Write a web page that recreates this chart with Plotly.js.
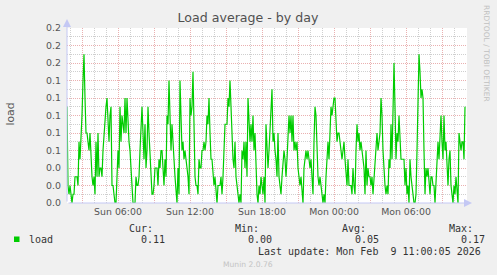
<!DOCTYPE html>
<html>
<head>
<meta charset="utf-8">
<script src="https://cdn.plot.ly/plotly-3.0.1.min.js"></script>
<style>
  html, body { margin: 0; padding: 0; background: #f0f0f0; }
  #chart { width: 497px; height: 275px; }
</style>
</head>
<body>
<div id="chart"></div>
<script>
// ---- Data (5-minute samples) ----
const startTime = "2026-02-08T01:45:00Z";
const stepMinutes = 5;

const loadSunEarly = [
  0.11, 0.02, 0.01, 0.02, 0.01, 0.00, 0.01, 0.01, 0.03, 0.03,
  0.03, 0.02, 0.07, 0.05, 0.07, 0.10, 0.14, 0.17, 0.12, 0.08,
  0.08, 0.07, 0.06, 0.08, 0.05, 0.03, 0.02, 0.03, 0.01, 0.07,
  0.03, 0.08, 0.03, 0.04, 0.04, 0.03, 0.06, 0.08, 0.09, 0.11,
  0.12, 0.08, 0.07, 0.10, 0.11, 0.02, 0.02, 0.01, 0.00, 0.00,
  0.03, 0.06, 0.04, 0.11, 0.07, 0.10, 0.09, 0.08, 0.12, 0.08,
  0.12, 0.08, 0.07, 0.06, 0.04, 0.01, 0.00, 0.00, 0.00, 0.03,
  0.02, 0.02, 0.03, 0.06, 0.08, 0.11, 0.08, 0.05, 0.09, 0.04,
  0.06, 0.11, 0.08, 0.06, 0.03, 0.01, 0.01, 0.02, 0.04, 0.04,
  0.04, 0.02, 0.05, 0.04, 0.06, 0.06, 0.04, 0.02, 0.05, 0.03
];
const loadSunMid = [
  0.10, 0.09, 0.14, 0.09, 0.06, 0.09, 0.06, 0.05, 0.03, 0.01,
  0.00, 0.04, 0.01, 0.14, 0.08, 0.06, 0.07, 0.05, 0.06, 0.05,
  0.04, 0.03, 0.01, 0.12, 0.10, 0.11, 0.15, 0.09, 0.03, 0.02,
  0.02, 0.01, 0.05, 0.04, 0.04, 0.06, 0.06, 0.07, 0.06, 0.07,
  0.10, 0.09, 0.12, 0.08, 0.05, 0.05, 0.03, 0.02, 0.03, 0.01,
  0.00, 0.02, 0.02, 0.02, 0.03, 0.01, 0.03, 0.06, 0.09, 0.09,
  0.09, 0.12, 0.11, 0.14, 0.10, 0.06, 0.05, 0.04, 0.07, 0.03,
  0.02, 0.01, 0.00, 0.01, 0.00, 0.06, 0.05, 0.07, 0.04, 0.07,
  0.03, 0.12, 0.10, 0.07, 0.09, 0.07, 0.10, 0.06, 0.08, 0.03,
  0.01, 0.00, 0.02, 0.01, 0.03, 0.02, 0.01, 0.03, 0.00, 0.09
];
const loadSunLate = [
  0.06, 0.04, 0.06, 0.09, 0.10, 0.13, 0.07, 0.08, 0.06, 0.05,
  0.03, 0.08, 0.03, 0.02, 0.01, 0.03, 0.05, 0.06, 0.05, 0.03,
  0.05, 0.08, 0.10, 0.08, 0.10, 0.07, 0.10, 0.06, 0.07, 0.06,
  0.07, 0.04, 0.03, 0.02, 0.03, 0.01, 0.00, 0.04, 0.05, 0.06,
  0.05, 0.06, 0.05, 0.04, 0.05, 0.03, 0.01, 0.07, 0.11, 0.10,
  0.06, 0.03, 0.02, 0.03, 0.02, 0.01, 0.00, 0.01, 0.00, 0.03,
  0.06, 0.07, 0.05, 0.08, 0.11, 0.10, 0.11, 0.12, 0.12, 0.10,
  0.07, 0.08, 0.08, 0.07, 0.06, 0.05, 0.06, 0.07, 0.05, 0.03,
  0.02, 0.05, 0.02, 0.02, 0.02, 0.01, 0.04, 0.02, 0.01, 0.06,
  0.09, 0.07, 0.08, 0.06, 0.07, 0.06, 0.05, 0.04, 0.01, 0.06
];
const loadMon = [
  0.02, 0.04, 0.03, 0.03, 0.02, 0.03, 0.01, 0.03, 0.04, 0.07,
  0.08, 0.06, 0.07, 0.08, 0.12, 0.10, 0.06, 0.03, 0.02, 0.01,
  0.02, 0.01, 0.05, 0.04, 0.09, 0.05, 0.10, 0.16, 0.11, 0.05,
  0.08, 0.07, 0.10, 0.08, 0.05, 0.05, 0.05, 0.05, 0.02, 0.04,
  0.01, 0.02, 0.00, 0.05, 0.03, 0.02, 0.01, 0.00, 0.00, 0.01,
  0.06, 0.11, 0.17, 0.15, 0.12, 0.13, 0.12, 0.06, 0.01, 0.04,
  0.03, 0.04, 0.02, 0.01, 0.03, 0.03, 0.02, 0.02, 0.00, 0.02,
  0.04, 0.07, 0.05, 0.08, 0.10, 0.07, 0.05, 0.10, 0.06, 0.07,
  0.03, 0.02, 0.05, 0.06, 0.02, 0.01, 0.00, 0.02, 0.01, 0.03,
  0.01, 0.00, 0.08, 0.07, 0.06, 0.07, 0.07, 0.05, 0.11
];

const xRange = ["2026-02-08 01:45", "2026-02-09 11:05"];
const xTickVals = ["2026-02-08 03:00", "2026-02-08 06:00", "2026-02-08 09:00", "2026-02-08 12:00",
                   "2026-02-08 15:00", "2026-02-08 18:00", "2026-02-08 21:00", "2026-02-09 00:00",
                   "2026-02-09 03:00", "2026-02-09 06:00", "2026-02-09 09:00"];
const xTickText = ["", "Sun 06:00", "", "Sun 12:00", "", "Sun 18:00", "", "Mon 00:00", "", "Mon 06:00", ""];
const xMinorVals = ["2026-02-08 02:00", "2026-02-08 04:00", "2026-02-08 05:00", "2026-02-08 07:00",
                    "2026-02-08 08:00", "2026-02-08 10:00", "2026-02-08 11:00", "2026-02-08 13:00",
                    "2026-02-08 14:00", "2026-02-08 16:00", "2026-02-08 17:00", "2026-02-08 19:00",
                    "2026-02-08 20:00", "2026-02-08 22:00", "2026-02-08 23:00", "2026-02-09 01:00",
                    "2026-02-09 02:00", "2026-02-09 04:00", "2026-02-09 05:00", "2026-02-09 07:00",
                    "2026-02-09 08:00", "2026-02-09 10:00", "2026-02-09 11:00"];

const yTickVals = [0, 0.02, 0.04, 0.06, 0.08, 0.10, 0.12, 0.14, 0.16, 0.18, 0.20];
const yTickText = ["0.0", "0.0", "0.0", "0.1", "0.1", "0.1", "0.1", "0.1", "0.2", "0.2", "0.2"];
const yMinorVals = [0.01, 0.03, 0.05, 0.07, 0.09, 0.11, 0.13, 0.15, 0.17, 0.19];

const seriesName = "load";
const legendHeaders = ["Cur:", "Min:", "Avg:", "Max:"];
const legendValues = ["0.11", "0.00", "0.05", "0.17"];
const lastUpdate = "Last update: Mon Feb\u00a0 9 11:00:05 2026";

// ---- Build ----
const loadValues = [].concat(loadSunEarly, loadSunMid, loadSunLate, loadMon);
const t0 = Date.parse(startTime);
const times = loadValues.map((_, i) =>
  new Date(t0 + i * stepMinutes * 60000).toISOString().slice(0, 19).replace("T", " "));

// pixel -> paper helpers (plot area: x 67..467, y 28..203)
const PL = 67, PR = 467, PT = 28, PB = 203;
const px = x => (x - PL) / (PR - PL);
const py = y => (PB - y) / (PB - PT);

const mono = { family: "DejaVu Sans Mono", size: 10, color: "#333" };
const ann = [];
function txt(x, y, text, font, xanchor, extra) {
  ann.push(Object.assign({ xref: "paper", yref: "paper", x: px(x), y: py(y), text: text,
    showarrow: false, font: font, xanchor: xanchor || "left", yanchor: "middle" }, extra || {}));
}
const headerX = [126.7, 233.3, 340, 446.7];
const valueX = [139, 245.7, 352.7, 459];
legendHeaders.forEach((h, i) => txt(headerX[i], 228.5, h, mono));
legendValues.forEach((v, i) => txt(valueX[i], 239.5, v, mono));
txt(26.7, 239.5, seriesName, mono);
txt(483, 251, lastUpdate, mono, "right");
txt(248, 264.5, "Munin 2.0.76", { family: "DejaVu Sans", size: 7.6, color: "#c4c4c4" }, "center");
txt(487, 53, "RRDTOOL / TOBI OETIKER", { family: "DejaVu Sans", size: 7.5, color: "#c0c0c0" }, "center", { textangle: 90, xanchor: "center" });
txt(10, 114.5, "load", { family: "DejaVu Sans", size: 10.8, color: "#555" }, "center", { textangle: -90 });

// axis arrows
const axisCol = "#c4c8f4";
ann.push({ xref: "paper", yref: "paper", x: 0, y: py(19), ax: 0, ay: PB - 19, text: "",
  showarrow: true, arrowhead: 2, arrowsize: 1.6, arrowwidth: 1, arrowcolor: axisCol, standoff: 0 });
ann.push({ xref: "paper", yref: "paper", x: px(472), y: 0, ax: -(472 - PL), ay: 0, text: "",
  showarrow: true, arrowhead: 2, arrowsize: 1.6, arrowwidth: 1, arrowcolor: axisCol, standoff: 0 });

const tickFont = { family: "DejaVu Sans", size: 9.4, color: "#555" };
const majorGrid = "#eab0b0";
const minorGrid = "#cfcfcf";

const trace = {
  x: times, y: loadValues, type: "scatter", mode: "lines", name: seriesName,
  line: { color: "#00cc00", width: 1.2 }, hoverinfo: "skip"
};

const layout = {
  width: 497, height: 275,
  margin: { l: PL, r: 497 - PR, t: PT, b: 275 - PB, pad: 0 },
  paper_bgcolor: "#f0f0f0", plot_bgcolor: "#ffffff",
  showlegend: false,
  title: { text: "Load average - by day", font: { family: "DejaVu Sans", size: 12.6, color: "#505050" },
           x: 248 / 497, xanchor: "center", y: 1 - 18 / 275, yanchor: "middle" },
  xaxis: {
    type: "date", range: xRange, tickmode: "array", tickvals: xTickVals, ticktext: xTickText,
    showgrid: true, gridcolor: majorGrid, griddash: "1px,1px", gridwidth: 1,
    minor: { tickmode: "array", tickvals: xMinorVals, showgrid: true, gridcolor: minorGrid, griddash: "1px,1px", gridwidth: 1 },
    ticks: "", showline: false, zeroline: false, tickfont: tickFont, ticklabelstandoff: 2, fixedrange: true
  },
  yaxis: {
    range: [0, 0.2], tickmode: "array", tickvals: yTickVals, ticktext: yTickText,
    showgrid: true, gridcolor: majorGrid, griddash: "1px,1px", gridwidth: 1,
    minor: { tickmode: "array", tickvals: yMinorVals, showgrid: true, gridcolor: minorGrid, griddash: "1px,1px", gridwidth: 1 },
    ticks: "", showline: false, zeroline: false, tickfont: tickFont, ticklabelstandoff: 5, fixedrange: true
  },
  shapes: [{ type: "rect", xref: "paper", yref: "paper", x0: px(14), x1: px(19.5), y0: py(242), y1: py(236.5),
             fillcolor: "#00cc00", line: { width: 0 } }],
  annotations: ann
};

Plotly.newPlot("chart", [trace], layout, { staticPlot: true, displayModeBar: false });
</script>
</body>
</html>
